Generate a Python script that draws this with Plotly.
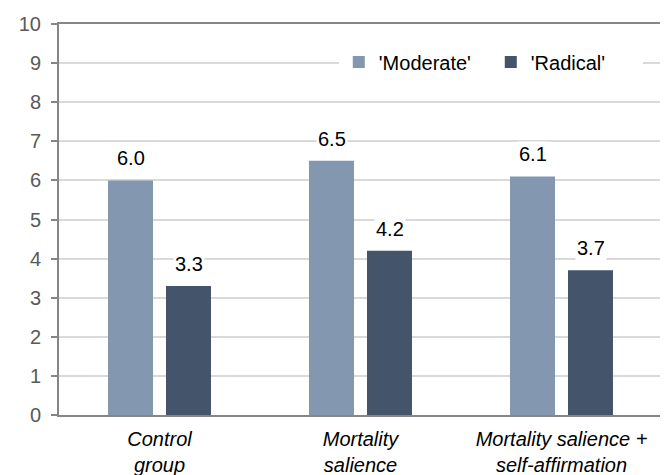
import plotly.graph_objects as go

categories = ["Control group", "Mortality salience", "Mortality salience + self-affirmation"]
tick_labels = ["Control<br>group", "Mortality<br>salience", "Mortality salience +<br>self-affirmation"]
moderate = [6.0, 6.5, 6.1]
radical = [3.3, 4.2, 3.7]
series_names = ["'Moderate'", "'Radical'"]
colors = ["#8497B0", "#44546A"]

fig = go.Figure()
for name, vals, col in zip(series_names, [moderate, radical], colors):
    fig.add_trace(go.Bar(x=categories, y=vals, name=name, marker=dict(color=col, line=dict(width=0))))

font = "Liberation Sans, Arial, sans-serif"
for vals, shift in [(moderate, -29), (radical, 29)]:
    for c, v in zip(categories, vals):
        fig.add_annotation(x=c, y=v, text=f"{v:.1f}", showarrow=False, xshift=shift, yshift=22,
                           bgcolor="white", font=dict(family=font, size=20, color="black"))

fig.update_layout(
    width=668, height=475,
    margin=dict(l=51, r=14, t=16, b=68, autoexpand=False),
    paper_bgcolor="white", plot_bgcolor="white",
    barmode="group", bargap=0.423, bargroupgap=0.224,
    font=dict(family=font, size=20, color="#595959"),
    legend=dict(orientation="h", x=0.464, xanchor="left", y=0.903, yanchor="middle",
                entrywidth=107, entrywidthmode="pixels",
                bgcolor="white", font=dict(family=font, size=20, color="black")),
    showlegend=True,
)
fig.update_yaxes(range=[0, 10], dtick=1, showgrid=True, gridcolor="#D9D9D9", gridwidth=1.5,
                 showline=True, linecolor="#868686", linewidth=2, mirror=True, automargin=False,
                 ticks="outside", ticklen=6, tickcolor="#868686", tickwidth=2, ticklabelstandoff=6,
                 tickfont=dict(family=font, size=20, color="#595959"), zeroline=False)
fig.update_xaxes(tickvals=categories, ticktext=tick_labels, showline=True, linecolor="#868686",
                 linewidth=2, mirror=True, ticks="", ticklabelstandoff=5, automargin=False,
                 tickfont=dict(family=font, size=20, color="black", style="italic"))

fig.write_html("out.html")
